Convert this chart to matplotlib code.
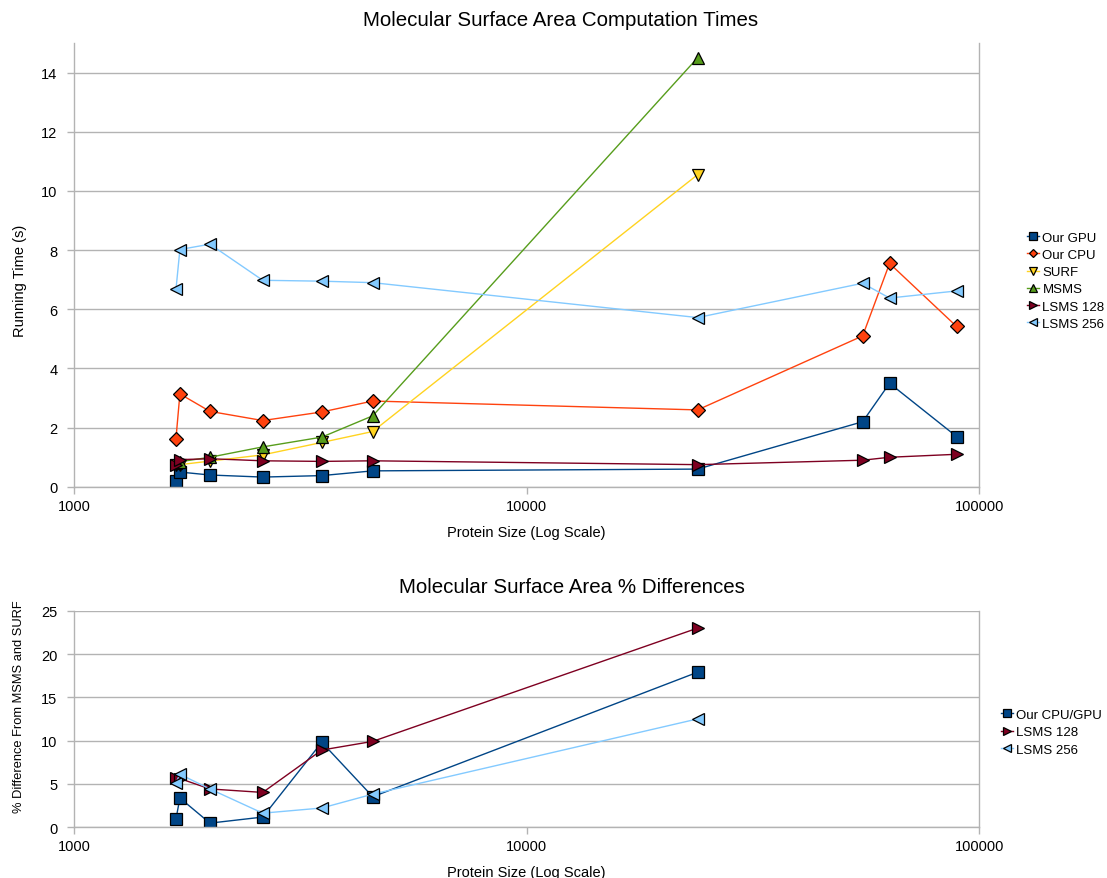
import numpy as np
import matplotlib.pyplot as plt
from matplotlib.ticker import FixedLocator, NullLocator

plt.rcParams['font.family'] = ['Liberation Sans', 'DejaVu Sans']

# protein sizes (atoms)
sizes = [1680, 1714, 1997, 2612, 3527, 4570, 23850, 55200, 63300, 89000]

gpu = [0.2, 0.5, 0.4, 0.33, 0.38, 0.54, 0.6, 2.2, 3.5, 1.7]
cpu = [1.63, 3.14, 2.55, 2.24, 2.53, 2.9, 2.6, 5.1, 7.55, 5.42]
surf = [0.75, 0.75, 0.87, 1.08, 1.5, 1.87, 10.55]
msms = [0.8, 0.85, 1.0, 1.35, 1.68, 2.4, 14.5]
lsms128 = [0.75, 0.92, 0.95, 0.88, 0.86, 0.88, 0.75, 0.9, 1.0, 1.1]
lsms256 = [6.67, 8.02, 8.2, 6.98, 6.95, 6.9, 5.72, 6.88, 6.38, 6.62]

# % differences
diff_gpu = [0.92, 3.35, 0.45, 1.15, 9.8, 3.5, 17.9]
diff_128 = [5.7, 5.6, 4.4, 4.0, 8.9, 9.9, 23.0]
diff_256 = [5.1, 6.1, 4.4, 1.6, 2.2, 3.8, 12.5]

c_gpu = '#004586'
c_cpu = '#ff420e'
c_surf = '#ffd320'
c_msms = '#579d1c'
c_128 = '#7e0021'
c_256 = '#83caff'
grid_c = '#b3b3b3'

fig = plt.figure(figsize=(11.07, 8.79), dpi=100)
ax1 = fig.add_axes([0.0668, 0.445, 0.818, 0.505])
ax2 = fig.add_axes([0.0668, 0.058, 0.818, 0.246])

def style(ax, ymax, ystep):
    ax.set_xscale('log')
    ax.set_xlim(1000, 100000)
    ax.set_ylim(0, ymax)
    ax.xaxis.set_major_locator(FixedLocator([1000, 10000, 100000]))
    ax.xaxis.set_minor_locator(NullLocator())
    ax.set_xticklabels(['1000', '10000', '100000'])
    ax.set_yticks(np.arange(0, ymax + 0.01, ystep))
    ax.grid(axis='y', color=grid_c, linewidth=1)
    ax.set_axisbelow(True)
    for s in ['left', 'bottom', 'right']:
        ax.spines[s].set_color(grid_c)
        ax.spines[s].set_linewidth(1)
    ax.spines['top'].set_visible(False)
    ax.tick_params(colors=grid_c, labelcolor='black', labelsize=10.5, length=5, width=1)
    ax.tick_params(axis='y', pad=7)
    ax.set_xlabel('Protein Size (Log Scale)', fontsize=10.5, labelpad=9)

def series(ax, x, y, color, marker, label, ms=9):
    ax.plot(x, y, color=color, marker=marker, markersize=ms, markerfacecolor=color,
            markeredgecolor='black', markeredgewidth=0.9, linewidth=1, label=label)

series(ax1, sizes, gpu, c_gpu, 's', 'Our GPU')
series(ax1, sizes, cpu, c_cpu, 'D', 'Our CPU', ms=7.5)
series(ax1, sizes[:7], surf, c_surf, 'v', 'SURF')
series(ax1, sizes[:7], msms, c_msms, '^', 'MSMS')
series(ax1, sizes, lsms128, c_128, '>', 'LSMS 128')
series(ax1, sizes, lsms256, c_256, '<', 'LSMS 256')
style(ax1, 15, 2)
ax1.set_yticks(np.arange(0, 15, 2))
ax1.set_ylabel('Running Time (s)', fontsize=10.5)
ax1.yaxis.set_label_coords(-0.052, 0.466)
fig.text(0.506, 0.977, 'Molecular Surface Area Computation Times', fontsize=14.8,
         ha='center', va='center')
ax1.legend(loc='upper left', bbox_to_anchor=(0.922, 0.743), bbox_transform=fig.transFigure,
           frameon=False, fontsize=9.5, handlelength=0.9, handletextpad=0.25,
           labelspacing=0.38, markerscale=0.6, borderpad=0)

series(ax2, sizes[:7], diff_gpu, c_gpu, 's', 'Our CPU/GPU')
series(ax2, sizes[:7], diff_128, c_128, '>', 'LSMS 128')
series(ax2, sizes[:7], diff_256, c_256, '<', 'LSMS 256')
style(ax2, 25, 5)
ax2.set_ylabel('% Difference From MSMS and SURF', fontsize=9.3)
ax2.yaxis.set_label_coords(-0.054, 0.56)
fig.text(0.517, 0.332, 'Molecular Surface Area % Differences', fontsize=14.8,
         ha='center', va='center')
ax2.legend(loc='upper left', bbox_to_anchor=(0.898, 0.2), bbox_transform=fig.transFigure,
           frameon=False, fontsize=9.5, handlelength=0.9, handletextpad=0.25,
           labelspacing=0.38, markerscale=0.6, borderpad=0)

fig.savefig('out.png', dpi=100)
